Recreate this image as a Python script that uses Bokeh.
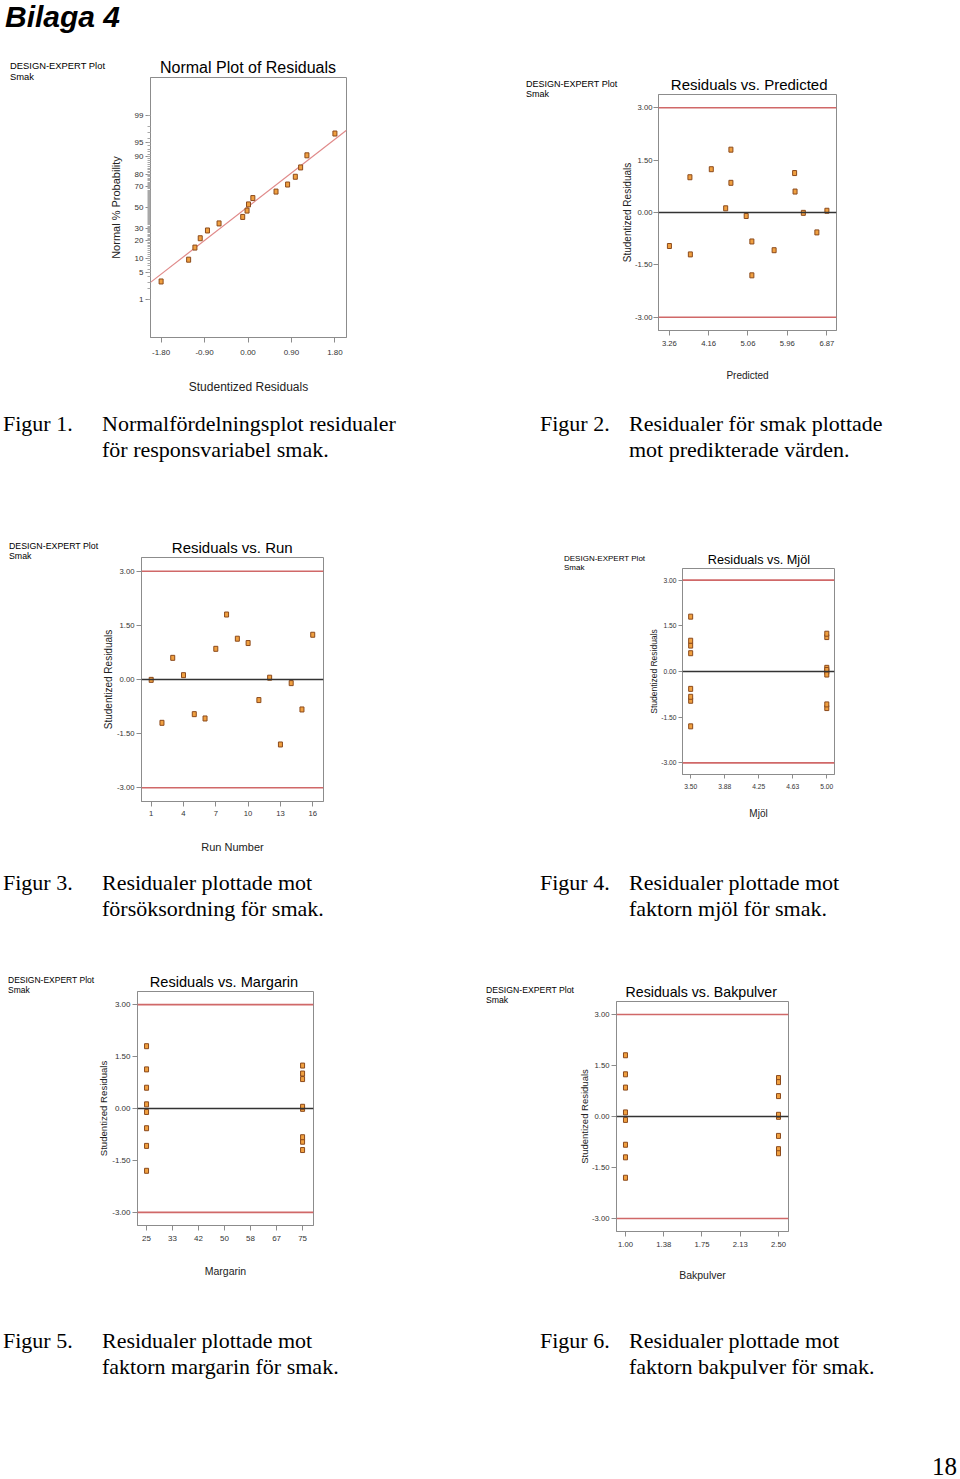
from statistics import NormalDist
from bokeh.plotting import figure
from bokeh.models import FixedTicker, Span, Div, Range1d, Title
from bokeh.layouts import column, row
from bokeh.embed import file_html
from bokeh.resources import INLINE

# ---------------- data ----------------
run_order = [1, 2, 3, 4, 5, 6, 7, 8, 9, 10, 11, 12, 13, 14, 15, 16]
residuals = [-0.01, -1.20, 0.60, 0.12, -0.96, -1.08, 0.85, 1.80,
             1.13, 1.01, -0.57, 0.05, -1.80, -0.10, -0.83, 1.24]
predicted = [6.33, 3.74, 6.14, 4.55, 3.26, 5.66, 4.67, 4.67,
             6.13, 3.73, 6.64, 6.87, 5.15, 5.02, 5.15, 4.22]
mjol = [5.00, 5.00, 3.50, 5.00, 3.50, 5.00, 3.50, 3.50,
        5.00, 3.50, 3.50, 5.00, 3.50, 5.00, 3.50, 5.00]
margarin = [75, 75, 25, 25, 75, 25, 75, 25, 25, 75, 25, 75, 25, 25, 75, 75]
bakpulver = [2.50, 1.00, 2.50, 1.00, 2.50, 2.50, 1.00, 1.00,
             2.50, 2.50, 2.50, 2.50, 1.00, 1.00, 1.00, 1.00]

# normal probability plot
normal_resid = [-1.80, -1.23, -1.10, -0.99, -0.84, -0.60, -0.11, -0.02,
                0.01, 0.10, 0.58, 0.82, 0.98, 1.09, 1.22, 1.80]
normal_prob = [3.1, 9.4, 15.6, 21.9, 28.1, 34.4, 40.6, 46.9,
               53.1, 59.4, 65.6, 71.9, 78.1, 84.4, 90.6, 96.9]
fit_x = [-2.02, 2.04]
fit_prob = [2.94, 97.44]
prob_ticks = [1, 5, 10, 20, 30, 50, 70, 80, 90, 95, 99]
prob_minor = list(range(1, 100))

resid_ticks = [-3.0, -1.5, 0.0, 1.5, 3.0]
resid_labels = ["-3.00", "-1.50", "0.00", "1.50", "3.00"]
limit_lines = [3.0, -3.0]

x1_ticks = [-1.80, -0.90, 0.00, 0.90, 1.80]
x1_labels = ["-1.80", "-0.90", "0.00", "0.90", "1.80"]
x2_ticks = [3.26, 4.16, 5.06, 5.96, 6.87]
x2_labels = ["3.26", "4.16", "5.06", "5.96", "6.87"]
x3_ticks = [1, 4, 7, 10, 13, 16]
x3_labels = ["1", "4", "7", "10", "13", "16"]
x4_ticks = [3.50, 3.875, 4.25, 4.625, 5.00]
x4_labels = ["3.50", "3.88", "4.25", "4.63", "5.00"]
x5_ticks = [25, 33.33, 41.67, 50, 58.33, 66.67, 75]
x5_labels = ["25", "33", "42", "50", "58", "67", "75"]
x6_ticks = [1.00, 1.375, 1.75, 2.125, 2.50]
x6_labels = ["1.00", "1.38", "1.75", "2.13", "2.50"]

plot_titles = ["Normal Plot of Residuals", "Residuals vs. Predicted", "Residuals vs. Run",
               "Residuals vs. Mjöl", "Residuals vs. Margarin", "Residuals vs. Bakpulver"]
de_lines = ["DESIGN-EXPERT Plot", "Smak"]

captions = [
    ("Figur 1.", "Normalfördelningsplot residualer<br>för responsvariabel smak."),
    ("Figur 2.", "Residualer för smak plottade<br>mot predikterade värden."),
    ("Figur 3.", "Residualer plottade mot<br>försöksordning för smak."),
    ("Figur 4.", "Residualer plottade mot<br>faktorn mjöl för smak."),
    ("Figur 5.", "Residualer plottade mot<br>faktorn margarin för smak."),
    ("Figur 6.", "Residualer plottade mot<br>faktorn bakpulver för smak."),
]

FONT = "Liberation Sans"
nd = NormalDist()


def probit(pct):
    return nd.inv_cdf(pct / 100.0)


def make_panel(x0, y0, w, h, L, R, T, B, xr, yr, title, t_x, t_fs):
    bl = int(round(L - x0)); br = int(round(x0 + w - R))
    bt = int(round(T - y0)); bb = int(round(y0 + h - B))
    p = figure(width=w, height=h, x_range=Range1d(*xr), y_range=Range1d(*yr),
               title=None, output_backend="svg", toolbar_location=None,
               min_border_left=bl, min_border_right=br,
               min_border_top=bt, min_border_bottom=bb, margin=0)
    p.grid.visible = False
    p.background_fill_color = "white"
    p.border_fill_color = "white"
    p.outline_line_color = "#8c8c8c"
    p.outline_line_width = 1
    p.add_layout(Title(text=title, align="left", offset=t_x - L, standoff=4,
                       text_font=FONT, text_font_size=f"{t_fs}px",
                       text_font_style="normal", text_color="black"), "above")
    return p


def style_axes(p, xt, xl, yt, yl, xlab, ylab, tick_fs, xlab_fs, ylab_fs,
               x_tl_so, y_tl_so, x_lab_so, y_lab_so, tick_out=5, yminor=None):
    xa = p.xaxis[0]; ya = p.yaxis[0]
    xa.ticker = FixedTicker(ticks=xt)
    xa.major_label_overrides = {t: s for t, s in zip(xt, xl)}
    if yminor is None:
        ya.ticker = FixedTicker(ticks=yt)
    else:
        ya.ticker = FixedTicker(ticks=yt, minor_ticks=yminor)
    ya.major_label_overrides = {t: s for t, s in zip(yt, yl)}
    for ax in (xa, ya):
        ax.axis_line_color = "#8c8c8c"
        ax.major_tick_line_color = "#8c8c8c"
        ax.major_tick_out = tick_out
        ax.major_tick_in = 0
        ax.minor_tick_line_color = None
        ax.major_label_text_font = FONT
        ax.major_label_text_font_size = f"{tick_fs}px"
        ax.major_label_text_color = "#333333"
        ax.axis_label_text_font = FONT
        ax.axis_label_text_font_style = "normal"
        ax.axis_label_text_color = "#222222"
    if yminor is not None:
        ya.minor_tick_line_color = "#a8a8a8"
        ya.minor_tick_out = 3
        ya.minor_tick_in = 0
    xa.axis_label = xlab
    ya.axis_label = ylab
    xa.axis_label_text_font_size = f"{xlab_fs}px"
    ya.axis_label_text_font_size = f"{ylab_fs}px"
    xa.major_label_standoff = x_tl_so
    ya.major_label_standoff = y_tl_so
    xa.axis_label_standoff = x_lab_so
    ya.axis_label_standoff = y_lab_so


def add_points(p, xs, ys):
    p.rect(xs, ys, width=4, height=5, width_units="screen", height_units="screen",
           fill_color="#f0a040", line_color="#8b4a1c", line_width=1)


def add_limits(p):
    for v in limit_lines:
        p.add_layout(Span(location=v, dimension="width", line_color="#d06868", line_width=1.6))
    p.add_layout(Span(location=0, dimension="width", line_color="#333333", line_width=1.3))


def de_div(width, height, left, base1, base2, top0, fs):
    st = (f"position:absolute;white-space:nowrap;font-family:'Liberation Sans',Arial,sans-serif;"
          f"font-size:{fs}px;line-height:{fs}px;color:#000;left:{left}px;")
    t1 = round(base1 - 0.8465 * fs - top0, 1)
    t2 = round(base2 - 0.8465 * fs - top0, 1)
    html = (f'<div style="position:relative;width:{width}px;height:{height}px;">'
            f'<span style="{st}top:{t1}px;">{de_lines[0]}</span>'
            f'<span style="{st}top:{t2}px;">{de_lines[1]}</span></div>')
    return Div(text=html, width=width, height=height, margin=0)


# ---------------- Figure 1: normal plot ----------------
p1 = make_panel(106, 50, 374, 350, 150.5, 345.7, 77, 337, (-2.02, 2.04), (-3.28, 3.28),
                plot_titles[0], 160, 16)
style_axes(p1, x1_ticks, x1_labels, [probit(v) for v in prob_ticks], [str(v) for v in prob_ticks],
           "Studentized Residuals", "Normal % Probability", 8, 12, 11,
           7, 2, 22, 10, yminor=[probit(v) for v in prob_minor])
p1.line(fit_x, [probit(v) for v in fit_prob], line_color="#e08a8a", line_width=1.2)
add_points(p1, normal_resid, [probit(v) for v in normal_prob])
d1 = de_div(106, 350, 10, 69, 80, 50, 9.4)

# ---------------- Figure 2: residuals vs predicted ----------------
p2 = make_panel(618, 50, 342, 350, 657.7, 835.5, 94.3, 330.3, (3.01, 7.09), (-3.38, 3.38),
                plot_titles[1], 670, 15)
style_axes(p2, x2_ticks, x2_labels, resid_ticks, resid_labels,
           "Predicted", "Studentized Residuals", 7.7, 10, 10,
           5, 1, 21, -1)
add_limits(p2)
add_points(p2, predicted, residuals)
d2 = de_div(138, 350, 46, 87.3, 97.3, 50, 9.0)

# ---------------- Figure 3: residuals vs run ----------------
p3 = make_panel(99, 520, 381, 350, 140.7, 322.7, 557.3, 800.7, (0.1, 17.0), (-3.38, 3.38),
                plot_titles[2], 171, 15)
style_axes(p3, x3_ticks, x3_labels, resid_ticks, resid_labels,
           "Run Number", "Studentized Residuals", 7.7, 11, 10,
           4, 2, 22, 0)
add_limits(p3)
add_points(p3, run_order, residuals)
d3 = de_div(99, 350, 9, 549.6, 559.6, 520, 8.8)

# ---------------- Figure 4: residuals vs mjöl ----------------
p4 = make_panel(646, 520, 314, 350, 681.7, 834.3, 568.4, 773.9, (3.41, 5.085), (-3.38, 3.38),
                plot_titles[3], 707, 12.7)
style_axes(p4, x4_ticks, x4_labels, resid_ticks, resid_labels,
           "Mjöl", "Studentized Residuals", 6.7, 10, 8.5,
           5, 2, 16, -1, tick_out=4)
add_limits(p4)
add_points(p4, mjol, residuals)
d4 = de_div(166, 350, 84, 562, 571, 520, 8.0)

# ---------------- Figure 5: residuals vs margarin ----------------
p5 = make_panel(95, 960, 385, 340, 136.7, 312.7, 990.6, 1225.2, (22.1, 78.5), (-3.38, 3.38),
                plot_titles[4], 149, 14.6)
style_axes(p5, x5_ticks, x5_labels, resid_ticks, resid_labels,
           "Margarin", "Studentized Residuals", 8, 10.5, 9.6,
           5, 2, 21, 0)
add_limits(p5)
add_points(p5, margarin, residuals)
d5 = de_div(95, 340, 8, 983.4, 993.4, 960, 8.5)

# ---------------- Figure 6: residuals vs bakpulver ----------------
p6 = make_panel(575, 960, 385, 340, 616, 788.3, 1001.1, 1231.3, (0.912, 2.598), (-3.38, 3.38),
                plot_titles[5], 625, 14.2)
style_axes(p6, x6_ticks, x6_labels, resid_ticks, resid_labels,
           "Bakpulver", "Studentized Residuals", 7.7, 10.5, 9.5,
           5, 2, 19, -1)
add_limits(p6)
add_points(p6, bakpulver, residuals)
d6 = de_div(95, 340, 6, 993.3, 1003.3, 960, 8.7)

# ---------------- page texts ----------------
SERIF = ("position:absolute;white-space:nowrap;font-family:'Liberation Serif','Times New Roman',serif;"
         "font-size:22px;line-height:26px;color:#000;")


def caption_html(pair, top, height, extra=""):
    (a1, b1), (a2, b2) = pair
    s = f'<div style="position:relative;width:960px;height:{height}px;">'
    s += f'<span style="{SERIF}left:3px;top:{top}px;">{a1}</span>'
    s += f'<span style="{SERIF}left:102px;top:{top}px;">{b1}</span>'
    s += f'<span style="{SERIF}left:540px;top:{top}px;">{a2}</span>'
    s += f'<span style="{SERIF}left:629px;top:{top}px;">{b2}</span>'
    s += extra + '</div>'
    return s


header = Div(text='<div style="position:relative;top:0px;left:5px;font-family:\'Liberation Sans\',Arial,sans-serif;'
                  'font-weight:bold;font-style:italic;font-size:30px;line-height:34px;white-space:nowrap;color:#000;">Bilaga 4</div>',
             width=960, height=50, margin=0)
cap1 = Div(text=caption_html(captions[0:2], 11.3, 120), width=960, height=120, margin=0)
cap2 = Div(text=caption_html(captions[2:4], 0.3, 90), width=960, height=90, margin=0)
page_no = ('<span style="position:absolute;white-space:nowrap;right:3px;top:159px;'
           'font-family:\'Liberation Serif\',serif;font-size:25px;line-height:16px;color:#000;">18</span>')
cap3 = Div(text=caption_html(captions[4:6], 28.3, 178, page_no), width=960, height=178, margin=0)

layout = column(header,
                row(row(d1, p1), row(d2, p2)),
                cap1,
                row(row(d3, p3), row(d4, p4)),
                cap2,
                row(row(d5, p5), row(d6, p6)),
                cap3)

open("out.html", "w").write(file_html(layout, INLINE))
